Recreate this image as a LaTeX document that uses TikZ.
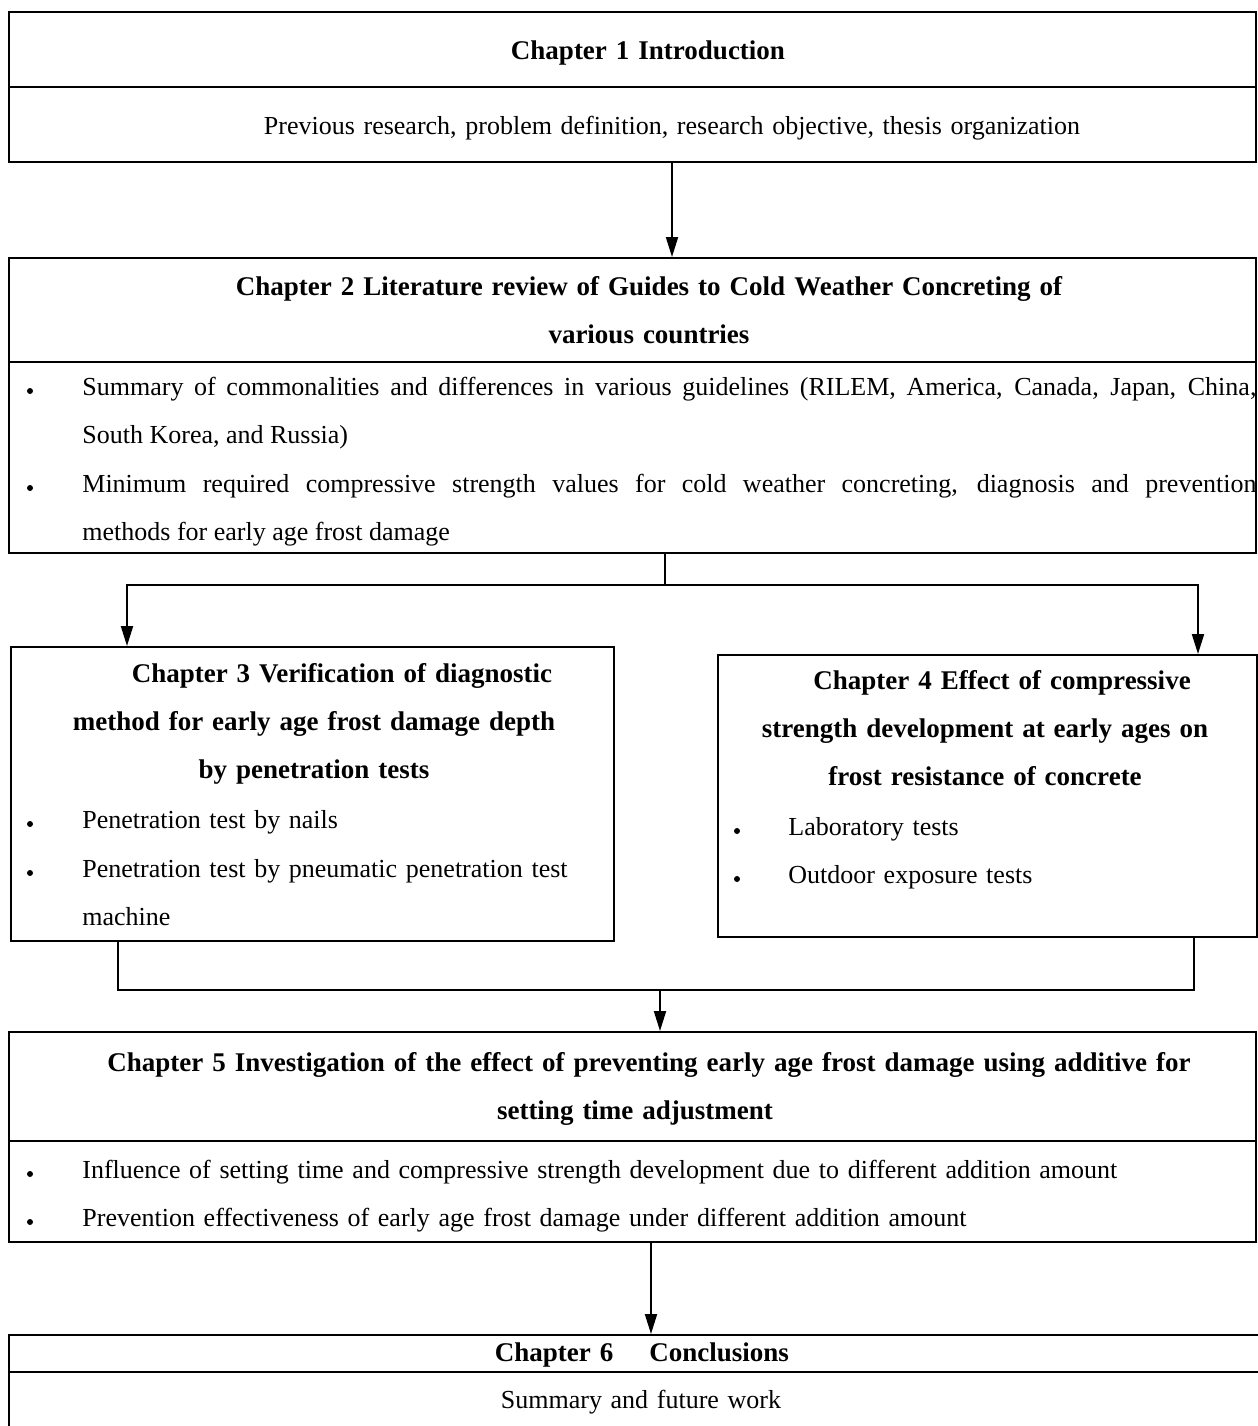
\documentclass[tikz,border=0pt]{standalone}
\usepackage{fontspec}
\setmainfont{Liberation Serif}
\usetikzlibrary{calc,arrows.meta}

\begin{document}
\begin{tikzpicture}[x=0.5pt,y=-0.5pt,
		frame/.style={draw,line width=1pt,inner sep=0pt},
		wire/.style={line width=1pt},
		>={Triangle[width=6pt,length=10pt]},
		head/.style={font=\fontsize{13.5}{24}\selectfont\bfseries,align=center,inner sep=0pt,anchor=base},
		body/.style={font=\fontsize{13}{24}\selectfont,inner sep=0pt,anchor=base west,text width=587pt,align=justify},
		dot/.style={circle,fill,inner sep=0pt,minimum size=3pt}]
			\useasboundingbox (0,0) rectangle (1258,1426);
			
			\node[frame,minimum width=623.5pt,minimum height=75pt] (c1) at (632.5,87) {};
			\node[head,text width=600pt] (t1) at (648,59) {Chapter 1 Introduction};
			\node[head,font=\fontsize{13}{24}\selectfont,text width=600pt] (s1) at (672,134) {Previous research, problem definition, research objective, thesis organization};
			
			\node[frame,minimum width=623.5pt,minimum height=147.5pt] (c2) at (632.5,405.5) {};
			\node[head,text width=600pt] (t2) at (649,295) {Chapter 2 Literature review of Guides to Cold Weather Concreting of\\various countries};
			\node[dot] (d21) at (30,391) {};
			\node[body] (b21) at (82,395) {Summary of commonalities and differences in various guidelines (RILEM, America, Canada, Japan, China,\linebreak South Korea, and Russia)};
			\node[dot] (d22) at (30,488) {};
			\node[body] (b22) at (82,492) {Minimum required compressive strength values for cold weather concreting, diagnosis and prevention\linebreak methods for early age frost damage};
			
			\node[frame,minimum width=301.5pt,minimum height=147pt] (c3) at (312.5,794) {};
			\node[head,text width=290pt] (t3) at (314,682) {\hspace*{28pt}Chapter 3 Verification of diagnostic\\method for early age frost damage depth\\by penetration tests};
			\node[dot] (d31) at (30,824) {};
			\node[body,text width=260pt,align=left] (b31) at (82,828) {Penetration test by nails};
			\node[dot] (d32) at (30,873) {};
			\node[body,text width=260pt,align=left] (b32) at (82,877) {Penetration test by pneumatic penetration test\\machine};
			
			\node[frame,minimum width=269.5pt,minimum height=141pt] (c4) at (987.5,796) {};
			\node[head,text width=250pt] (t4) at (985,689) {\hspace*{17pt}Chapter 4 Effect of compressive\\strength development at early ages on\\frost resistance of concrete};
			\node[dot] (d41) at (737,831) {};
			\node[body,text width=230pt,align=left] (b41) at (788,835) {Laboratory tests};
			\node[dot] (d42) at (737,879) {};
			\node[body,text width=230pt,align=left] (b42) at (788,883) {Outdoor exposure tests};
			
			\node[frame,minimum width=623.5pt,minimum height=105pt] (c5) at (632.5,1137) {};
			\node[head,text width=600pt] (t5) at (635,1071) {\hspace*{14pt}Chapter 5 Investigation of the effect of preventing early age frost damage using additive for\\setting time adjustment};
			\node[dot] (d51) at (30,1174) {};
			\node[body,align=left] (b51) at (82,1178) {Influence of setting time and compressive strength development due to different addition amount};
			\node[dot] (d52) at (30,1222) {};
			\node[body,align=left] (b52) at (82,1226) {Prevention effectiveness of early age frost damage under different addition amount};
			
			\node[frame,minimum width=635.5pt,minimum height=57.5pt] (c6) at (644.5,1392.5) {};
			\node[head,text width=600pt] (t6) at (642,1361) {Chapter 6\hspace{18pt}Conclusions};
			\node[head,font=\fontsize{13}{24}\selectfont,text width=600pt] (s6) at (641,1408) {Summary and future work};
			
			%dividers
			\draw[wire] ($(c1.north west)+(0,76)$) -- ($(c1.north east)+(0,76)$);
			\draw[wire] ($(c2.north west)+(0,105)$) -- ($(c2.north east)+(0,105)$);
			\draw[wire] ($(c5.north west)+(0,110)$) -- ($(c5.north east)+(0,110)$);
			\draw[wire] ($(c6.north west)+(0,38)$) -- ($(c6.north east)+(0,38)$);
			
			%connectors
			\draw[wire,->] (s1 |- c1.south) -- (s1 |- c2.north);
			
			\coordinate (s2) at (665,585);
			\draw[wire] (s2 |- c2.south) -- (s2);
			\draw[wire,->] (s2) -| ($(c3.north west)+(117,0)$);
			\draw[wire,->] (s2) -| ($(c4.north west)+(481,0)$);
			
			\coordinate (j5) at (660,990);
			\draw[wire] ($(c3.south west)+(108,0)$) |- (j5) -| ($(c4.south west)+(477,0)$);
			\draw[wire,->] (j5) -- (j5 |- c5.north);
			
			\coordinate (k6) at (651,1290);
			\draw[wire,->] (k6 |- c5.south) -- (k6 |- c6.north);
		\end{tikzpicture}
\end{document}
